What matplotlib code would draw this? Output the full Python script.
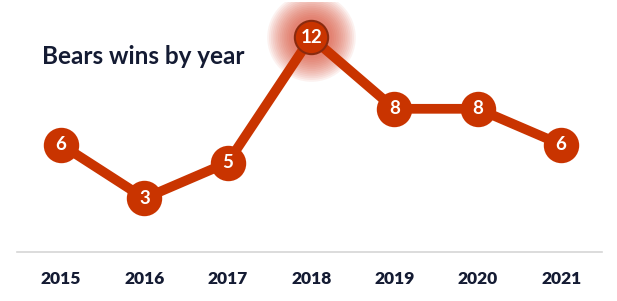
import matplotlib
matplotlib.use("Agg")
import matplotlib.pyplot as plt

years = [2015, 2016, 2017, 2018, 2019, 2020, 2021]
wins = [6, 3, 5, 12, 8, 8, 6]
highlight = 2018

RED = "#c93400"
NAVY = "#141b33"

fig = plt.figure(figsize=(6.17, 3.01), dpi=100)
ax = fig.add_axes([17 / 617, 1 - 252 / 301, 585 / 617, 250 / 301])
ax.set_xlim(2014.47, 2021.49)
ax.set_ylim(0, 250 / 17.9)

ax.plot(years, wins, color=RED, lw=7, solid_capstyle="round", zorder=2)

# soft glow behind the peak year
i = years.index(highlight)
for k in range(14):
    ax.plot(years[i], wins[i], "o", ms=30 + k * 2.6, color="#d9452a",
            alpha=0.07, mec="none", zorder=1)

for x, y in zip(years, wins):
    edge = "#8a2a0f" if x == highlight else RED
    ax.plot(x, y, "o", ms=24, color=RED, mec=edge, mew=1.5, zorder=3)
    ax.text(x, y, str(y), ha="center", va="center", color="white",
            fontsize=13.5, fontweight="bold", family="Lato", zorder=4)

ax.axhline(0, color="#d6d6d6", lw=1.2, zorder=0, clip_on=False)
for sp in ax.spines.values():
    sp.set_visible(False)
ax.set_yticks([])
ax.set_xticks(years)
ax.set_xticklabels([str(y) for y in years], fontsize=12.5, fontweight="heavy",
                   family="Lato", color=NAVY)
ax.tick_params(axis="x", length=0, pad=14)

fig.text(42 / 617, 1 - 57 / 301, "Bears wins by year", ha="left", va="center",
         fontsize=17.5, fontweight="bold", family="Lato", color=NAVY)

fig.savefig("out.png", dpi=100)
